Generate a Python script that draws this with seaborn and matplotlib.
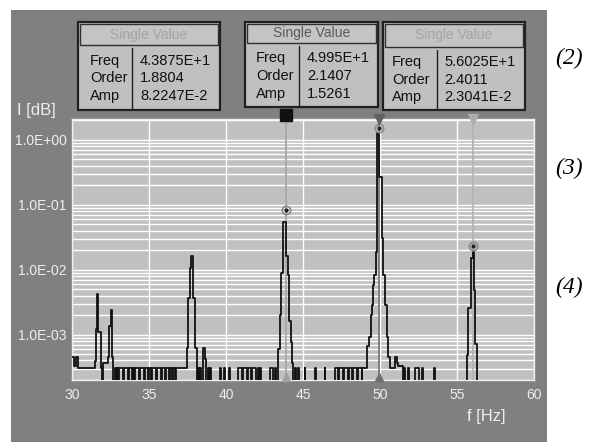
import matplotlib
matplotlib.use("Agg")
import matplotlib.pyplot as plt
from matplotlib.patches import Rectangle
from matplotlib.lines import Line2D
from matplotlib.ticker import FixedLocator, LogLocator, NullFormatter
import pandas as pd
import seaborn as sns

# ---- spectrum (step function: segment start frequency, level) ----
spec_f = [
    30.00, 30.13, 30.26, 30.40, 31.52, 31.57, 31.62, 31.72, 31.86, 31.93,
    32.03, 32.36, 32.42, 32.50, 32.62, 32.68, 32.79, 32.85, 32.92, 32.98,
    33.05, 33.30, 33.38, 33.62, 33.70, 33.90, 33.97, 34.05, 34.12, 34.35,
    34.43, 34.65, 34.73, 34.95, 35.02, 35.10, 35.18, 35.45, 35.53, 35.78,
    35.85, 36.05, 36.12, 36.30, 36.37, 36.50, 36.57, 36.68, 36.75, 37.45,
    37.55, 37.66, 37.73, 37.84, 37.88, 37.99, 38.10, 38.18, 38.25, 38.33,
    38.40, 38.53, 38.62, 38.72, 38.80, 38.88, 38.95, 39.02, 39.62, 39.68,
    39.90, 39.96, 40.18, 40.24, 40.80, 41.05, 41.12, 41.35, 41.42, 41.65,
    41.72, 41.95, 42.05, 42.12, 42.20, 42.30, 42.86, 43.08, 43.15, 43.22,
    43.40, 43.50, 43.60, 43.70, 43.88, 44.02, 44.10, 44.20, 44.30, 44.37,
    44.45, 44.52, 44.66, 44.72, 45.10, 45.16, 45.80, 45.86, 46.40, 46.46,
    47.08, 47.30, 47.37, 47.60, 47.67, 47.90, 47.97, 48.20, 48.27, 48.50,
    48.57, 48.80, 48.86, 49.13, 49.29, 49.42, 49.50, 49.57, 49.63, 49.72,
    49.79, 49.96, 50.11, 50.22, 50.32, 50.43, 50.54, 50.65, 50.97, 51.10,
    51.20, 51.50, 51.56, 51.62, 51.80, 51.86, 52.28, 52.50, 52.70, 52.76,
    53.48, 53.55, 55.63, 55.73, 55.88, 56.02, 56.10, 56.20, 56.28, 60.00,
]
spec_i = [
    4.6e-4, 3.3e-4, 4.6e-4, 3.1e-4, 3.9e-4, 1.2e-3, 4.3e-3, 1.1e-3, 3.1e-4, 1e-5,
    3.6e-4, 4.5e-4, 1.35e-3, 2.4e-3, 4.5e-4, 1e-5, 3.1e-4, 1e-5, 3.1e-4, 1e-5,
    3.1e-4, 1e-5, 3.1e-4, 1e-5, 3.1e-4, 1e-5, 3.1e-4, 1e-5, 3.1e-4, 1e-5,
    3.1e-4, 1e-5, 3.1e-4, 1e-5, 3.1e-4, 1e-5, 3.1e-4, 1e-5, 3.1e-4, 1e-5,
    3.1e-4, 1e-5, 3.1e-4, 1e-5, 3.1e-4, 1e-5, 3.1e-4, 1e-5, 3.1e-4, 6.3e-4,
    3.7e-3, 1.07e-2, 1.6e-2, 1.0e-2, 3.7e-3, 6.3e-4, 1e-5, 3.1e-4, 1e-5, 3.1e-4,
    1e-5, 6.3e-4, 4.2e-4, 1e-5, 3.1e-4, 1e-5, 3.1e-4, 1e-5, 3.1e-4, 1e-5,
    3.1e-4, 1e-5, 3.1e-4, 1e-5, 3.1e-4, 1e-5, 3.1e-4, 1e-5, 3.1e-4, 1e-5,
    3.1e-4, 1e-5, 3.1e-4, 1e-5, 3.1e-4, 1e-5, 3.1e-4, 1e-5, 3.1e-4, 1e-5,
    6.0e-4, 2.0e-3, 8.9e-3, 5.5e-2, 1.6e-2, 8.4e-3, 1.6e-3, 7.6e-4, 3.6e-4, 1e-5,
    3.1e-4, 1e-5, 3.1e-4, 1e-5, 3.1e-4, 1e-5, 3.1e-4, 1e-5, 3.1e-4, 1e-5,
    3.1e-4, 1e-5, 3.1e-4, 1e-5, 3.1e-4, 1e-5, 3.1e-4, 1e-5, 3.1e-4, 1e-5,
    3.1e-4, 1e-5, 3.1e-4, 6.6e-4, 9.3e-4, 2.0e-3, 2.9e-3, 5.8e-3, 8.4e-3, 1.9e-2,
    1.28, 0.27, 3.1e-2, 8.4e-3, 2.9e-3, 9.3e-4, 4.6e-4, 3.1e-4, 4.6e-4, 3.6e-4,
    3.3e-4, 1e-5, 3.1e-4, 1e-5, 3.1e-4, 1e-5, 3.1e-4, 1e-5, 3.1e-4, 1e-5,
    3.1e-4, 1e-5, 4.9e-4, 2.6e-3, 1.5e-2, 1.9e-2, 4.9e-3, 7.1e-4, 1e-5, 1e-5,
]

# ---- cursors ----
cursor_freq = [43.875, 49.95, 56.025]
cursor_order = [1.8804, 2.1407, 2.4011]
cursor_amp = [8.2247e-2, 1.5261, 2.3041e-2]
cursor_freq_txt = ["4.3875E+1", "4.995E+1", "5.6025E+1"]
cursor_order_txt = ["1.8804", "2.1407", "2.4011"]
cursor_amp_txt = ["8.2247E-2", "1.5261", "2.3041E-2"]

x_ticks = [30, 35, 40, 45, 50, 55, 60]
y_ticks = [1e0, 1e-1, 1e-2, 1e-3]
y_tick_labels = ["1.0E+00", "1.0E-01", "1.0E-02", "1.0E-03"]
side_labels = ["(2)", "(3)", "(4)"]

W, H = 591, 442
sns.set_style("white")
plt.rcParams["font.family"] = ["Liberation Sans", "DejaVu Sans"]

fig = plt.figure(figsize=(W / 100, H / 100), dpi=100, facecolor="white")


def fx(px):
    return px / W


def fy(py):
    return 1 - py / H


# dark instrument panel
fig.patches.append(Rectangle((fx(11), 0), fx(547) - fx(11), fy(10),
                             transform=fig.transFigure, facecolor="#808080",
                             edgecolor="none", zorder=-10))

ax = fig.add_axes([fx(72), fy(380), fx(534) - fx(72), fy(119) - fy(380)])
ax.set_zorder(2)
ax.set_facecolor("#c0c0c0")

df = pd.DataFrame({"f": spec_f, "I": spec_i})
ax.set_yscale("log")

# cursor lines behind the spectrum
cur_colors = ["#a8a8a8", "#787878", "#b4b4b4"]
for f0, c in zip(cursor_freq, cur_colors):
    ax.axvline(f0, color=c, lw=1.3, zorder=2)

sns.lineplot(data=df, x="f", y="I", ax=ax, estimator=None, sort=False,
             drawstyle="steps-post", color="#111111", lw=1.3, zorder=3)

# cursor value markers
for f0, a in zip(cursor_freq, cursor_amp):
    ax.plot([f0], [a], marker="o", ms=6, mfc="none", mec="#8a8a8a", mew=1.2, zorder=4)
    ax.plot([f0], [a], marker="o", ms=2, color="#202020", zorder=5)

trans = ax.get_xaxis_transform()
ax.plot([cursor_freq[0]], [1.014], marker="s", ms=8, color="#111111",
        transform=trans, clip_on=False, zorder=6)
ax.plot([cursor_freq[1]], [1.0], marker="v", ms=7, color="#606060",
        transform=trans, clip_on=False, zorder=6)
ax.plot([cursor_freq[2]], [1.0], marker="v", ms=7, color="#acacac",
        transform=trans, clip_on=False, zorder=6)
ax.plot([cursor_freq[0]], [0.012], marker="^", ms=6, color="#a0a0a0",
        transform=trans, clip_on=False, zorder=6)
ax.plot([cursor_freq[1]], [0.012], marker="^", ms=6, color="#707070",
        transform=trans, clip_on=False, zorder=6)

ax.set_xlim(30, 60)
ax.set_ylim(2.0e-4, 2.1)
ax.xaxis.set_major_locator(FixedLocator(x_ticks))
ax.set_xticklabels([str(t) for t in x_ticks])
ax.yaxis.set_major_locator(FixedLocator(y_ticks))
ax.set_yticklabels(y_tick_labels)
ax.yaxis.set_minor_locator(LogLocator(base=10, subs=range(2, 10), numticks=20))
ax.yaxis.set_minor_formatter(NullFormatter())
ax.grid(True, which="both", axis="y", color="white", lw=1.0, zorder=1)
ax.grid(True, which="major", axis="x", color="white", lw=1.0, zorder=1)
ax.set_axisbelow(True)
ax.tick_params(axis="both", which="both", length=0, colors="#eeeeee", labelsize=10)
ax.tick_params(axis="x", pad=6)
ax.tick_params(axis="y", pad=4)
for s in ax.spines.values():
    s.set_color("#eeeeee")
    s.set_linewidth(1.0)
ax.set_xlabel("")
ax.set_ylabel("")

fig.text(fx(17), fy(111), "I [dB]", color="#eeeeee", fontsize=12, va="center", ha="left")
fig.text(fx(486), fy(417), "f [Hz]", color="#eeeeee", fontsize=12, va="center", ha="center")

# value boxes
boxes = [
    dict(x0=78, x1=220, y0=22, yt=45, y1=110, div=132, lx=90, vx=140,
         rows=[61, 78, 96], title="#a4a4a4"),
    dict(x0=245, x1=378, y0=22, yt=43, y1=107, div=299, lx=256, vx=307,
         rows=[58, 76, 94], title="#5a5a5a"),
    dict(x0=383, x1=525, y0=22, yt=47, y1=110, div=437, lx=392, vx=444,
         rows=[62, 80, 97], title="#a4a4a4"),
]
row_names = ["Freq", "Order", "Amp"]
for b, ft, ot, at in zip(boxes, cursor_freq_txt, cursor_order_txt, cursor_amp_txt):
    fig.patches.append(Rectangle((fx(b["x0"]), fy(b["y1"])), fx(b["x1"]) - fx(b["x0"]),
                                 fy(b["y0"]) - fy(b["y1"]), transform=fig.transFigure,
                                 facecolor="#c0c0c0", edgecolor="#202020", lw=1.6, zorder=5))
    fig.patches.append(Rectangle((fx(b["x0"] + 2), fy(b["yt"])), fx(b["x1"] - 4) - fx(b["x0"]),
                                 fy(b["y0"] + 2) - fy(b["yt"]), transform=fig.transFigure,
                                 facecolor="#c4c4c4", edgecolor="#303030", lw=1.0, zorder=6))
    fig.add_artist(Line2D([fx(b["div"]), fx(b["div"])], [fy(b["yt"] + 3), fy(b["y1"] - 1)],
                          transform=fig.transFigure, color="#202020", lw=1.0, zorder=7))
    fig.text(fx((b["x0"] + b["x1"]) / 2), fy((b["y0"] + b["yt"]) / 2 + 1), "Single Value",
             color=b["title"], fontsize=10, ha="center", va="center", zorder=8)
    for name, val, ry in zip(row_names, [ft, ot, at], b["rows"]):
        fig.text(fx(b["lx"]), fy(ry), name, color="#101010", fontsize=10.5,
                 ha="left", va="center", zorder=8)
        fig.text(fx(b["vx"]), fy(ry), val, color="#101010", fontsize=10.5,
                 ha="left", va="center", zorder=8)

for lab, ly in zip(side_labels, [58, 168, 287]):
    fig.text(fx(569), fy(ly), lab, fontsize=17, style="italic",
             family=["Liberation Serif", "DejaVu Serif"], ha="center", va="center",
             color="black")

fig.savefig("out.png", dpi=100, facecolor="white")
